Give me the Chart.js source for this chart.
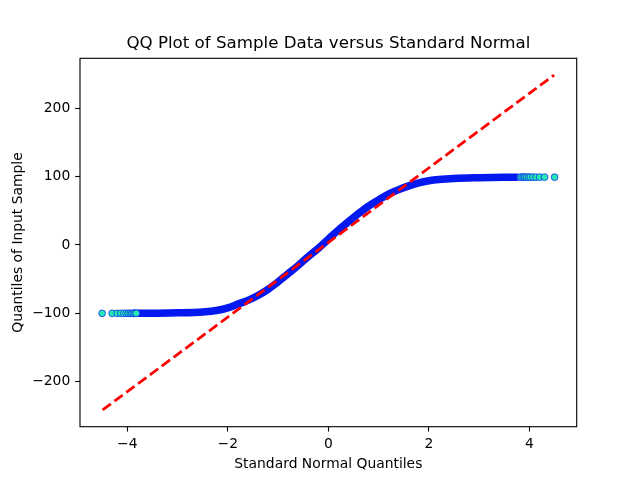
<!DOCTYPE html>
<html>
<head>
<meta charset="utf-8">
<script src="https://cdn.jsdelivr.net/npm/chart.js@4"></script>
<style>
  html, body { margin: 0; padding: 0; background: #fff; }
  #c { display: block; }
</style>
</head>
<body>
<canvas id="c" width="640" height="480"></canvas>
<script>
// ---- data ----
const titleText = "QQ Plot of Sample Data versus Standard Normal";
const xAxisLabel = "Standard Normal Quantiles";
const yAxisLabel = "Quantiles of Input Sample";

const xTicks = [-4, -2, 0, 2, 4];
const yTicks = [-200, -100, 0, 100, 200];

// dense body of the ordered sample (theoretical quantile, sample quantile)
const bodyX = [-3.85, -3.5, -3.0, -2.5, -2.2, -2.0, -1.8, -1.6, -1.4, -1.2, -1.0, -0.8, -0.6, -0.4, -0.2, 0.0,
               0.2, 0.4, 0.6, 0.8, 1.0, 1.2, 1.4, 1.6, 1.8, 2.0, 2.2, 2.5, 3.0, 3.5, 3.75];
const bodyY = [-100.0, -99.8, -99.3, -98.0, -95.5, -92.0, -86.5, -81.0, -74.0, -65.0, -54.0, -42.0, -30.0, -17.0, -5.0, 8.5,
               22.0, 34.0, 46.0, 57.0, 66.0, 74.5, 81.0, 86.5, 91.0, 94.0, 95.8, 97.3, 98.4, 99.1, 99.3];

// sparse tail points that show as individual markers
const lowTailX  = [-4.50, -4.30, -4.20, -4.13, -4.07, -4.02, -3.98, -3.94, -3.91, -3.88, -3.85, -3.82];
const lowTailY  = [-100.0, -100.0, -100.0, -100.0, -100.0, -100.0, -100.0, -100.0, -100.0, -100.0, -100.0, -100.0];
const highTailX = [3.82, 3.85, 3.88, 3.91, 3.94, 3.98, 4.02, 4.07, 4.13, 4.20, 4.30, 4.50];
const highTailY = [99.3, 99.3, 99.3, 99.3, 99.3, 99.3, 99.3, 99.3, 99.3, 99.3, 99.3, 99.3];

// reference (fit) line end points
const fitX = [-4.49, 4.49];
const fitY = [-241.4, 248.7];

const xLimits = [-4.94, 4.94];
const yLimits = [-265.9, 273.2];

// ---- build chart ----
const pts = (xs, ys) => xs.map((x, i) => ({ x: x, y: ys[i] }));
const fmt = v => (v < 0 ? '\u2212' + Math.abs(v) : String(v));
const FONT = "'DejaVu Sans', 'Liberation Sans', sans-serif";
const PX = 100 / 72;

const framePlugin = {
  id: 'frame',
  afterDraw(chart) {
    const a = chart.chartArea, ctx = chart.ctx;
    ctx.save();
    ctx.strokeStyle = '#000';
    ctx.lineWidth = 0.8 * PX;
    ctx.strokeRect(a.left, a.top, a.right - a.left, a.bottom - a.top);
    ctx.restore();
  }
};

new Chart(document.getElementById('c'), {
  type: 'scatter',
  data: {
    datasets: [
      {
        label: 'fit',
        data: pts(fitX, fitY),
        showLine: true,
        borderColor: '#ff0000',
        borderWidth: 2 * PX,
        borderDash: [3.7 * 2 * PX, 1.6 * 2 * PX],
        pointRadius: 0,
        order: 0
      },
      {
        label: 'tails',
        data: pts(lowTailX, lowTailY).concat(pts(highTailX, highTailY)),
        showLine: false,
        pointRadius: 3.4,
        pointBackgroundColor: '#26e8b2',
        pointBorderColor: '#1030f0',
        pointBorderWidth: 0.8,
        order: 1
      },
      {
        label: 'sample',
        data: pts(bodyX, bodyY),
        showLine: true,
        borderColor: '#0418f0',
        borderWidth: 7.5,
        borderCapStyle: 'round',
        borderJoinStyle: 'round',
        cubicInterpolationMode: 'monotone',
        pointRadius: 0,
        order: 2
      }
    ]
  },
  options: {
    responsive: false,
    animation: false,
    devicePixelRatio: 1,
    layout: { padding: { left: 0, right: 63.3, top: 0, bottom: 0 } },
    plugins: {
      legend: { display: false },
      tooltip: { enabled: false },
      title: {
        display: true,
        text: titleText,
        fullSize: false,
        color: '#000',
        font: { family: FONT, size: 12 * PX, weight: 'normal', lineHeight: 1.2 },
        padding: { top: 34, bottom: 4.3 }
      }
    },
    scales: {
      x: {
        type: 'linear',
        position: 'bottom',
        min: xLimits[0],
        max: xLimits[1],
        afterBuildTicks: s => { s.ticks = xTicks.map(v => ({ value: v })); },
        afterFit: s => { s.height = 53.3; },
        ticks: {
          color: '#000',
          padding: 3.5 * PX,
          maxRotation: 0,
          font: { family: FONT, size: 10 * PX },
          callback: v => fmt(v)
        },
        grid: {
          display: true,
          drawOnChartArea: false,
          drawTicks: true,
          tickLength: 3.5 * PX,
          tickWidth: 0.8 * PX,
          tickColor: '#000'
        },
        border: { display: false },
        title: {
          display: true,
          text: xAxisLabel,
          color: '#000',
          font: { family: FONT, size: 10 * PX, lineHeight: 1.2 },
          padding: { top: 0, bottom: 7.7 }
        }
      },
      y: {
        type: 'linear',
        position: 'left',
        min: yLimits[0],
        max: yLimits[1],
        afterBuildTicks: s => { s.ticks = yTicks.map(v => ({ value: v })); },
        afterFit: s => { s.width = 80; },
        ticks: {
          color: '#000',
          padding: 3.5 * PX,
          font: { family: FONT, size: 10 * PX },
          callback: v => fmt(v)
        },
        grid: {
          display: true,
          drawOnChartArea: false,
          drawTicks: true,
          tickLength: 3.5 * PX,
          tickWidth: 0.8 * PX,
          tickColor: '#000'
        },
        border: { display: false },
        title: {
          display: true,
          text: yAxisLabel,
          color: '#000',
          font: { family: FONT, size: 10 * PX, lineHeight: 1.2 },
          padding: { top: 9.7, bottom: 0 }
        }
      }
    }
  },
  plugins: [framePlugin]
});
</script>
</body>
</html>
